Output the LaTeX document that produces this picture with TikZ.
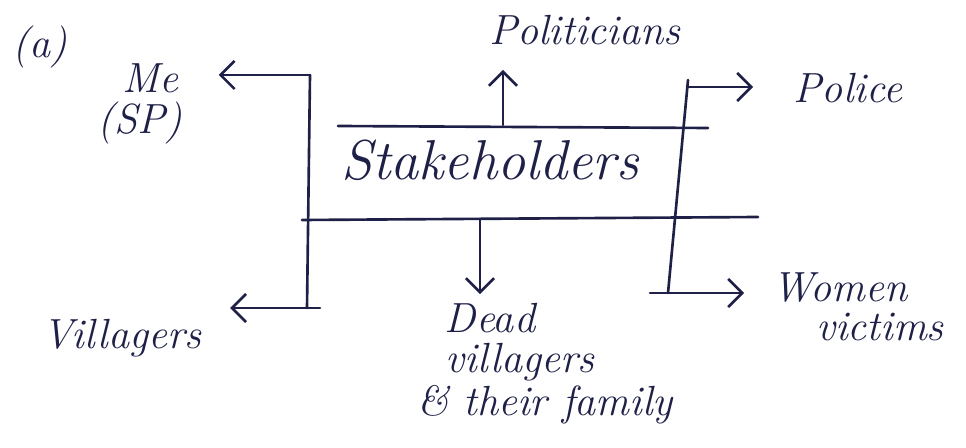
\documentclass[tikz,border=0pt]{standalone}
\usepackage{xcolor}
\usepackage{tikz}
\usetikzlibrary{positioning,arrows.meta}
\definecolor{ink}{RGB}{30,32,72}

\begin{document}
\begin{tikzpicture}[x = 0.02cm, y = -0.02cm,
    label/.style = {text = ink, inner sep = 1pt, font = \itshape\fontsize{24}{26}\selectfont},
    line/.style = {draw = ink, line width = 1.5pt, line cap = round},
    arr/.style = {line, -{Straight Barb[length = 8pt, width = 16pt]}}]
  \useasboundingbox (0, 0) rectangle (966, 448);

  \node[label] (qa) at (40, 47){
    (a)
  };

  \node[label] (me) at (150, 78){
    Me
  };

  \node[label] (sp) at (140, 123){
    (SP)
  };

  \node[label] (pol) at (585, 30){
    Politicians
  };

  \node[label] (police) at (848, 88){
    Police
  };

  \node[label, font = \itshape\fontsize{32}{34}\selectfont] (stake) at (490, 160){
    Stakeholders
  };

  \node[label] (vill) at (122, 338){
    Villagers
  };

  \node[label] (dead) at (490, 318){
    Dead
  };

  \node[label] (deadv) at (520, 362){
    villagers
  };

  \node[label] (deadf) at (545, 405){
    \& their family
  };

  \node[label] (women) at (840, 288){
    Women
  };

  \node[label] (victims) at (880, 327){
    victims
  };

  % frame round the stakeholders
  \coordinate (tA) at (338, 126);
  \coordinate (tB) at (708, 128);
  \coordinate (bA) at (302, 220);
  \coordinate (bB) at (758, 217);
  \coordinate (jUp) at (503, 125);
  \coordinate (jDown) at (480, 219);

  % left and right uprights
  \coordinate (jTL) at (310, 75);
  \coordinate (jBL) at (307, 308);
  \coordinate (jBLr) at (320, 308);
  \coordinate (jTR) at (688, 80);
  \coordinate (jTRr) at (688, 87);
  \coordinate (jBR) at (668, 293);
  \coordinate (jBRl) at (650, 293);

  \draw[line] (tA) -- (tB);
  \draw[line] (bA) -- (bB);
  \draw[line] (jTL) -- (jBL);
  \draw[line] (jTR) -- (jBR);
  \draw[line] (jBRl) -- (jBR);

  \draw[arr, shorten > = 22pt] (jTL) -- (me.east |- jTL);
  \draw[arr, shorten > = 15pt] (jBLr) -- (vill.east |- jBLr);
  \draw[arr, shorten > = 13pt] (jUp) -- (jUp |- pol.south);
  \draw[arr, shorten > = 4pt] (jDown) -- (jDown |- dead.north);
  \draw[arr, shorten > = 22pt] (jTRr) -- (jTRr -| police.west);
  \draw[arr, shorten > = 15pt] (jBR) -- (jBR -| women.west);
\end{tikzpicture}
\end{document}
